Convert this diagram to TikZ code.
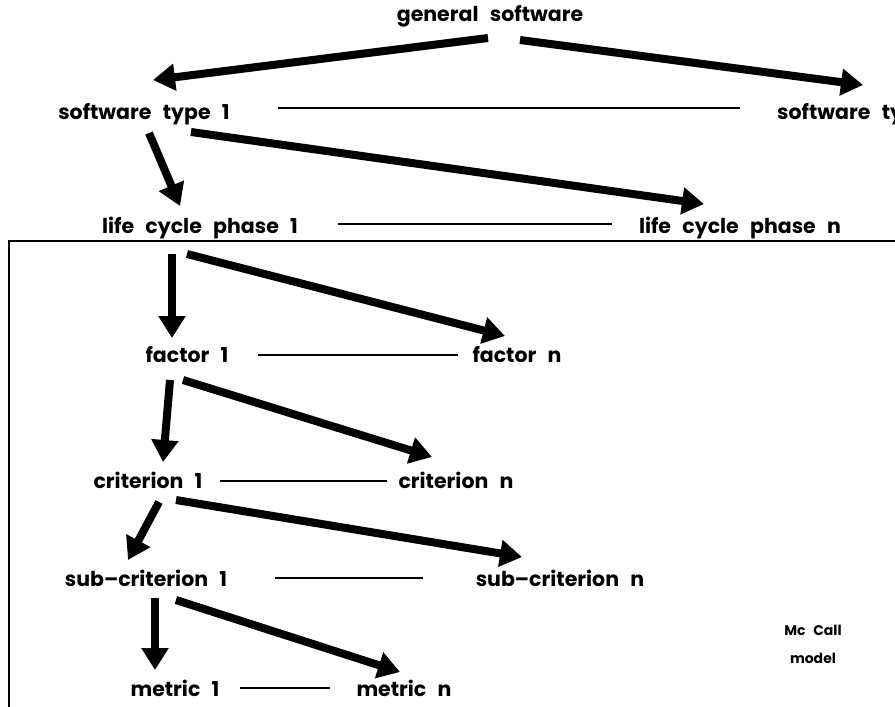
\documentclass[tikz,border=0pt]{standalone}
\usepackage{fontspec}
\setmainfont{Poppins}[WordSpace=2.6]
\usetikzlibrary{arrows.meta}
\begin{document}
\begin{tikzpicture}[x=1pt,y=-1pt,
  lbl/.style={inner sep=0pt,anchor=base,font=\fontsize{20.5}{23}\selectfont\bfseries},
  small/.style={inner sep=0pt,anchor=base,font=\fontsize{14}{16}\selectfont\bfseries},
  bigarrow/.style={line width=8pt,-{Triangle[length=22pt,width=26pt]}},
  thinline/.style={line width=2pt},
  frame/.style={line width=2.5pt}]
\clip (0,0) rectangle (895,707);
\useasboundingbox (0,0) rectangle (895,707);

% labels of the hierarchy
\node[lbl] (gs)   at (490,21)  {general software};
\node[lbl] (sw1)  at (144,119) {software type 1};
\node[lbl,anchor=base west] (swn) at (777,119) {software type n};
\node[lbl] (lcp1) at (200,233) {life cycle phase 1};
\node[lbl] (lcpn) at (740,233) {life cycle phase n};
\node[lbl] (f1)   at (187,362) {factor 1};
\node[lbl] (fn)   at (517,362) {factor n};
\node[lbl] (c1)   at (148,488) {criterion 1};
\node[lbl] (cn)   at (456,488) {criterion n};
\node[lbl] (s1)   at (146,586) {sub--criterion 1};
\node[lbl] (sn)   at (560,586) {sub--criterion n};
\node[lbl] (m1)   at (175,696) {metric 1};
\node[lbl] (mn)   at (404,696) {metric n};
\node[small] (mc) at (813,635) {Mc Call};
\node[small] (md) at (813,663) {model};

% arrow end points
\coordinate (a1s) at (488,38);  \coordinate (a1e) at (153,80);
\coordinate (a2s) at (520,40);  \coordinate (a2e) at (863,85);
\coordinate (a3s) at (149,133); \coordinate (a3e) at (180,206);
\coordinate (a4s) at (191,132); \coordinate (a4e) at (704,204);
\coordinate (a5s) at (172,254); \coordinate (a5e) at (172,338);
\coordinate (a6s) at (187,254); \coordinate (a6e) at (505,336);
\coordinate (a7s) at (170,380); \coordinate (a7e) at (163,462);
\coordinate (a8s) at (183,380); \coordinate (a8e) at (432,457);
\coordinate (a9s) at (159,502); \coordinate (a9e) at (128,560);
\coordinate (a10s) at (176,500); \coordinate (a10e) at (522,557);
\coordinate (a11s) at (155,598); \coordinate (a11e) at (155,670);
\coordinate (a12s) at (176,600); \coordinate (a12e) at (400,672);

\draw[bigarrow] (a1s) -- (a1e);
\draw[bigarrow] (a2s) -- (a2e);
\draw[bigarrow] (a3s) -- (a3e);
\draw[bigarrow] (a4s) -- (a4e);
\draw[bigarrow] (a5s) -- (a5e);
\draw[bigarrow] (a6s) -- (a6e);
\draw[bigarrow] (a7s) -- (a7e);
\draw[bigarrow] (a8s) -- (a8e);
\draw[bigarrow] (a9s) -- (a9e);
\draw[bigarrow] (a10s) -- (a10e);
\draw[bigarrow] (a11s) -- (a11e);
\draw[bigarrow] (a12s) -- (a12e);

% sibling lines
\coordinate (l1s) at (278,108); \coordinate (l1e) at (740,108);
\coordinate (l2s) at (338,224); \coordinate (l2e) at (612,224);
\coordinate (l3s) at (258,355); \coordinate (l3e) at (458,355);
\coordinate (l4s) at (220,481); \coordinate (l4e) at (387,481);
\coordinate (l5s) at (275,578); \coordinate (l5e) at (423,578);
\coordinate (l6s) at (240,688); \coordinate (l6e) at (330,688);
\draw[thinline] (l1s) -- (l1e);
\draw[thinline] (l2s) -- (l2e);
\draw[thinline] (l3s) -- (l3e);
\draw[thinline] (l4s) -- (l4e);
\draw[thinline] (l5s) -- (l5e);
\draw[thinline] (l6s) -- (l6e);

% frame of the model part
\coordinate (bx1) at (9,707);
\coordinate (bx2) at (9,241);
\coordinate (bx3) at (895,241);
\draw[frame] (bx1) -- (bx2) -- (bx3);
\end{tikzpicture}
\end{document}
